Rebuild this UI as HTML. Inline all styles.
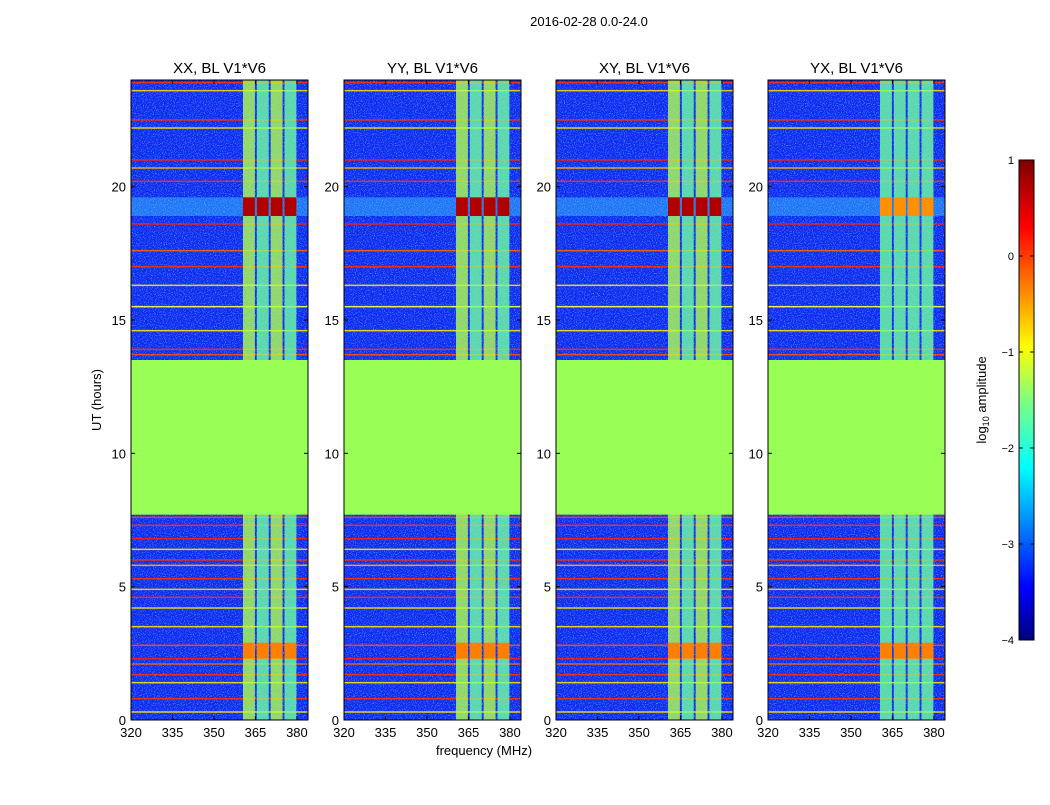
<!DOCTYPE html>
<html><head><meta charset="utf-8"><style>
body{margin:0;background:#fff;}
svg text{font-family:"Liberation Sans",sans-serif;}
</style></head><body>
<svg id="fig" width="1050" height="800" xmlns="http://www.w3.org/2000/svg">
<defs>
<filter id="noise" x="0" y="0" width="100%" height="100%">
<feTurbulence type="fractalNoise" baseFrequency="0.9" numOctaves="2" seed="3"/>
<feColorMatrix type="matrix" values="0 0 0 0 0.05  0 0 0 0 0.55  0 0 0 0 1  0 0 0 3 -1.55"/>
</filter>
<linearGradient id="jet" x1="0" y1="1" x2="0" y2="0">
<stop offset="0" stop-color="#00007f"/><stop offset="0.11" stop-color="#0000ff"/>
<stop offset="0.36" stop-color="#00ffff"/><stop offset="0.5" stop-color="#7fff7f"/>
<stop offset="0.61" stop-color="#ffff00"/><stop offset="0.86" stop-color="#ff0000"/>
<stop offset="1" stop-color="#7f0000"/></linearGradient>
</defs>
<text x="589" y="26" font-size="13" text-anchor="middle">2016-02-28 0.0-24.0</text>
<g id="panels"></g>
<g>
<rect x="1019" y="160" width="15" height="480" fill="url(#jet)" stroke="#000"/>
<g id="cbticks"></g>
<text transform="translate(986,400) rotate(-90)" font-size="13" text-anchor="middle">log<tspan font-size="9" dy="3">10</tspan><tspan dy="-3"> amplitude</tspan></text>
</g>
<text x="484" y="755" font-size="13" text-anchor="middle">frequency (MHz)</text>
<text transform="translate(101,400) rotate(-90)" font-size="13" text-anchor="middle">UT (hours)</text>
</svg>
<script>
const titles=["XX, BL V1*V6","YY, BL V1*V6","XY, BL V1*V6","YX, BL V1*V6"];
const xTicks=[320,335,350,365,380];
const yTicks=[0,5,10,15,20];
const stripeStarts=[360.5,365.5,370.5,375.5];
const stripeWidth=4.3;
const lineHours=[23.9,23.6,22.5,22.2,21.0,20.7,20.2,18.6,17.6,17.0,16.3,15.5,14.6,13.9,13.7,7.6,7.3,6.8,6.4,6.0,5.8,5.3,4.9,4.6,4.2,3.5,2.8,2.3,2.1,1.7,1.4,0.8,0.3];
const lineColors=["#ff3000","#ffd000","#ff3000","#ffe000","#ff2000","#ffb000","#ff3000","#ff2000","#ff6000","#ff3000","#ffe000","#ffff40","#ffe000","#ff3000","#ff5000","#ff4000","#ff3000","#ff2000","#ffe000","#ff3000","#ffb000","#ff3000","#ffd000","#ff3000","#ffe000","#ffe000","#ff5000","#ff2000","#ff6000","#ff3000","#ffe000","#ff3000","#ffe000"];
const gapStart=7.7, gapEnd=13.5;
const blobHoursHi=[18.9,19.6];
const blobHoursLo=[2.3,2.9];
const blobStrong=[true,true,true,false];
const cbTicks=[1,0,-1,-2,-3,-4];
const panelX=[131,344,556,768];
const PW=177,PT=80,PH=640;
const ns="http://www.w3.org/2000/svg";
function mk(t,a,p){const e=document.createElementNS(ns,t);for(const k in a)e.setAttribute(k,a[k]);p.appendChild(e);return e;}
const G=document.getElementById('panels');
panelX.forEach((x0,pi)=>{
 const xs=f=>x0+(f-320)/64*PW;
 const ys=h=>PT+PH-(h/24)*PH;
 const g=mk('g',{},G);
 
 
 mk('rect',{x:x0,y:PT,width:PW,height:PH,fill:'#1428f0'},g);
 mk('rect',{x:x0,y:PT,width:PW,height:PH,filter:'url(#noise)'},g);
 const band=mk('rect',{x:x0,y:ys(blobHoursHi[1]),width:PW,height:ys(blobHoursHi[0])-ys(blobHoursHi[1]),fill:'#40e0ff',opacity:0.4},g);
 
 
 lineHours.forEach((h,i)=>{
  const l=mk('rect',{x:x0,y:ys(h)-0.75,width:PW,height:1.5,fill:lineColors[i],opacity:0.9},g);
  
  
 });
 stripeStarts.forEach((s,si)=>{
  const r=mk('rect',{x:xs(s),y:PT,width:xs(s+stripeWidth)-xs(s),height:PH,fill:(pi==3||si%2)?'#70ffa0':'#b0ff50',opacity:0.8},g);
  
  
 });
 stripeStarts.forEach(s=>{
  [blobHoursHi,blobHoursLo].forEach((bh,bi)=>{
   const strong=bi==1||blobStrong[pi];
   const b=mk('rect',{x:xs(s),y:ys(bh[1]),width:xs(s+stripeWidth)-xs(s),height:ys(bh[0])-ys(bh[1]),fill:strong?(bi==0?'#b00000':'#ff8000'):'#ff9000'},g);
   
   
  });
 });
 const gp=mk('rect',{x:x0,y:ys(gapEnd),width:PW,height:ys(gapStart)-ys(gapEnd),fill:'#99ff55'},g);
 
 
 mk('rect',{x:x0,y:PT,width:PW,height:PH,fill:'none',stroke:'#000'},g);
 const t=mk('text',{x:x0+PW/2,y:PT-7,'font-size':15,'text-anchor':'middle'},g);t.textContent=titles[pi];
 
 
 xTicks.forEach(v=>{const X=xs(v);mk('line',{x1:X,x2:X,y1:PT+PH,y2:PT+PH-4,stroke:'#000'},g);mk('line',{x1:X,x2:X,y1:PT,y2:PT+4,stroke:'#000'},g);
  const tx=mk('text',{x:X,y:PT+PH+17,'font-size':13,'text-anchor':'middle'},g);tx.textContent=v;
  
  });
 yTicks.forEach(v=>{const Y=ys(v);mk('line',{x1:x0,x2:x0+4,y1:Y,y2:Y,stroke:'#000'},g);mk('line',{x1:x0+PW,x2:x0+PW-4,y1:Y,y2:Y,stroke:'#000'},g);
  const ty=mk('text',{x:x0-5,y:Y+5,'font-size':13,'text-anchor':'end'},g);ty.textContent=v;
  
  });
});
const CB=document.getElementById('cbticks');
cbTicks.forEach(v=>{const Y=160+(1-v)/5*480;mk('line',{x1:1019,x2:1023,y1:Y,y2:Y,stroke:'#000'},CB);mk('line',{x1:1034,x2:1030,y1:Y,y2:Y,stroke:'#000'},CB);
 const t=mk('text',{x:1014,y:Y+4,'font-size':11,'text-anchor':'end'},CB);t.textContent=v<0?'\u2212'+(-v):v;
 
 });
</script>
</body></html>
